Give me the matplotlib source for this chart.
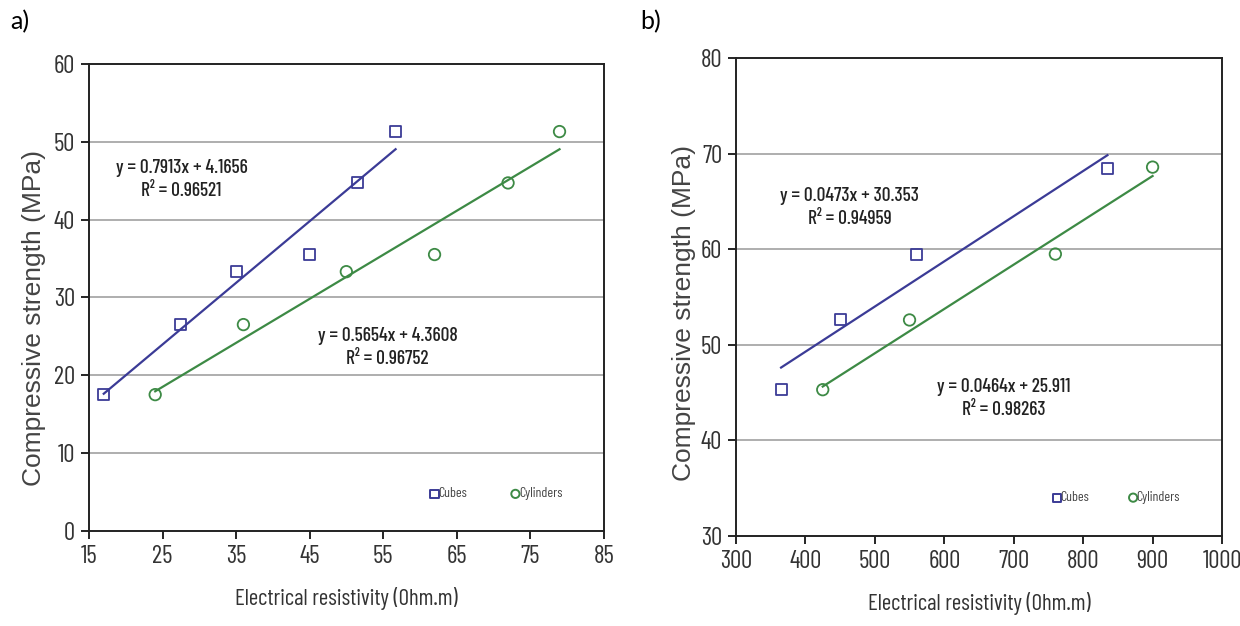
import numpy as np
import matplotlib
matplotlib.use("Agg")
import matplotlib.pyplot as plt

# panel a data
a_cube_x = [17, 27.5, 35, 45, 51.5, 56.7]
a_cube_y = [17.5, 26.5, 33.3, 35.5, 44.7, 51.3]
a_cyl_x = [24, 36, 50, 62, 72, 79]
a_cyl_y = [17.5, 26.5, 33.3, 35.5, 44.7, 51.3]
a_fit_cube = (0.7913, 4.1656)
a_fit_cyl = (0.5654, 4.3608)

# panel b data
b_cube_x = [365, 450, 560, 835]
b_cube_y = [45.3, 52.6, 59.5, 68.5]
b_cyl_x = [425, 550, 760, 900]
b_cyl_y = [45.3, 52.6, 59.5, 68.6]
b_fit_cube = (0.0473, 30.353)
b_fit_cyl = (0.0464, 25.911)

BLUE = "#3b3b96"
GREEN = "#3d8a45"
NARROW = ["Barlow Condensed", "DejaVu Sans"]

fig = plt.figure(figsize=(12.4, 6.26), dpi=100)
ax_a = fig.add_axes([0.0718, 0.152, 0.415, 0.746])
ax_b = fig.add_axes([0.5935, 0.144, 0.392, 0.763])


def draw(ax, cx, cy, gx, gy, fc, fg, xlim, ylim, xticks, yticks,
         cube_txt, cyl_txt, cube_pos, cyl_pos, leg_y, leg_cube_x, leg_cyl_x, ylab_xy):
    ax.set_xlim(*xlim)
    ax.set_ylim(*ylim)
    for y in yticks[1:-1]:
        ax.axhline(y, color="#a8a8a8", lw=1.3, zorder=0)
    xs = np.array([cx[0], cx[-1]])
    ax.plot(xs, fc[0] * xs + fc[1], color=BLUE, lw=1.6)
    xs = np.array([gx[0], gx[-1]])
    ax.plot(xs, fg[0] * xs + fg[1], color=GREEN, lw=1.6)
    ax.scatter(cx, cy, marker="s", s=62, facecolor="none", edgecolor=BLUE, lw=1.3, zorder=3)
    ax.scatter(gx, gy, marker="o", s=68, facecolor="none", edgecolor=GREEN, lw=1.3, zorder=3)
    ax.text(cube_pos[0], cube_pos[1], cube_txt, ha="center", va="center",
            family=NARROW, fontsize=14, weight="medium", color="#222222", linespacing=1.35)
    ax.text(cyl_pos[0], cyl_pos[1], cyl_txt, ha="center", va="center",
            family=NARROW, fontsize=14, weight="medium", color="#222222", linespacing=1.35)
    # small legend drawn inside the plot
    ax.scatter([leg_cube_x], [leg_y], marker="s", s=35, facecolor="none", edgecolor=BLUE, lw=1.4)
    ax.scatter([leg_cyl_x], [leg_y], marker="o", s=35, facecolor="none", edgecolor=GREEN, lw=1.4)
    dx = (xlim[1] - xlim[0]) * 0.007
    ax.text(leg_cube_x + dx, leg_y, "Cubes", ha="left", va="center",
            family=NARROW, fontsize=10, color="#444444")
    ax.text(leg_cyl_x + dx, leg_y, "Cylinders", ha="left", va="center",
            family=NARROW, fontsize=10, color="#444444")
    ax.set_xticks(xticks)
    ax.set_yticks(yticks)
    ax.tick_params(direction="out", length=6, width=1.2, labelsize=18, pad=4)
    for lab in ax.get_xticklabels() + ax.get_yticklabels():
        lab.set_family(NARROW)
        lab.set_color("#333333")
    for s in ax.spines.values():
        s.set_linewidth(1.4)
        s.set_color("#222222")
    ax.set_xlabel("Electrical resistivity (Ohm.m)", family=NARROW, fontsize=16.5,
                  color="#333333", labelpad=14)
    ax.set_ylabel("Compressive strength (MPa)", family=["Liberation Sans", "DejaVu Sans"],
                  fontsize=19, color="#444444")
    ax.yaxis.set_label_coords(*ylab_xy)


draw(ax_a, a_cube_x, a_cube_y, a_cyl_x, a_cyl_y, a_fit_cube, a_fit_cyl,
     (15, 85), (0, 60), list(range(15, 86, 10)), list(range(0, 61, 10)),
     "y = 0.7913x + 4.1656\nR² = 0.96521", "y = 0.5654x + 4.3608\nR² = 0.96752",
     (27.6, 45.1), (55.6, 23.6), 4.75, 62.0, 73.0, (-0.083, 0.456))

draw(ax_b, b_cube_x, b_cube_y, b_cyl_x, b_cyl_y, b_fit_cube, b_fit_cyl,
     (300, 1000), (30, 80), list(range(300, 1001, 100)), list(range(30, 81, 10)),
     "y = 0.0473x + 30.353\nR² = 0.94959", "y = 0.0464x + 25.911\nR² = 0.98263",
     (464, 64.35), (686, 44.35), 34.0, 762, 872, (-0.082, 0.466))

fig.text(0.008, 0.965, "a)", fontsize=18, family=["Lato", "DejaVu Sans"], va="center")
fig.text(0.516, 0.965, "b)", fontsize=18, family=["Lato", "DejaVu Sans"], va="center")

fig.savefig("out.png", dpi=100)
